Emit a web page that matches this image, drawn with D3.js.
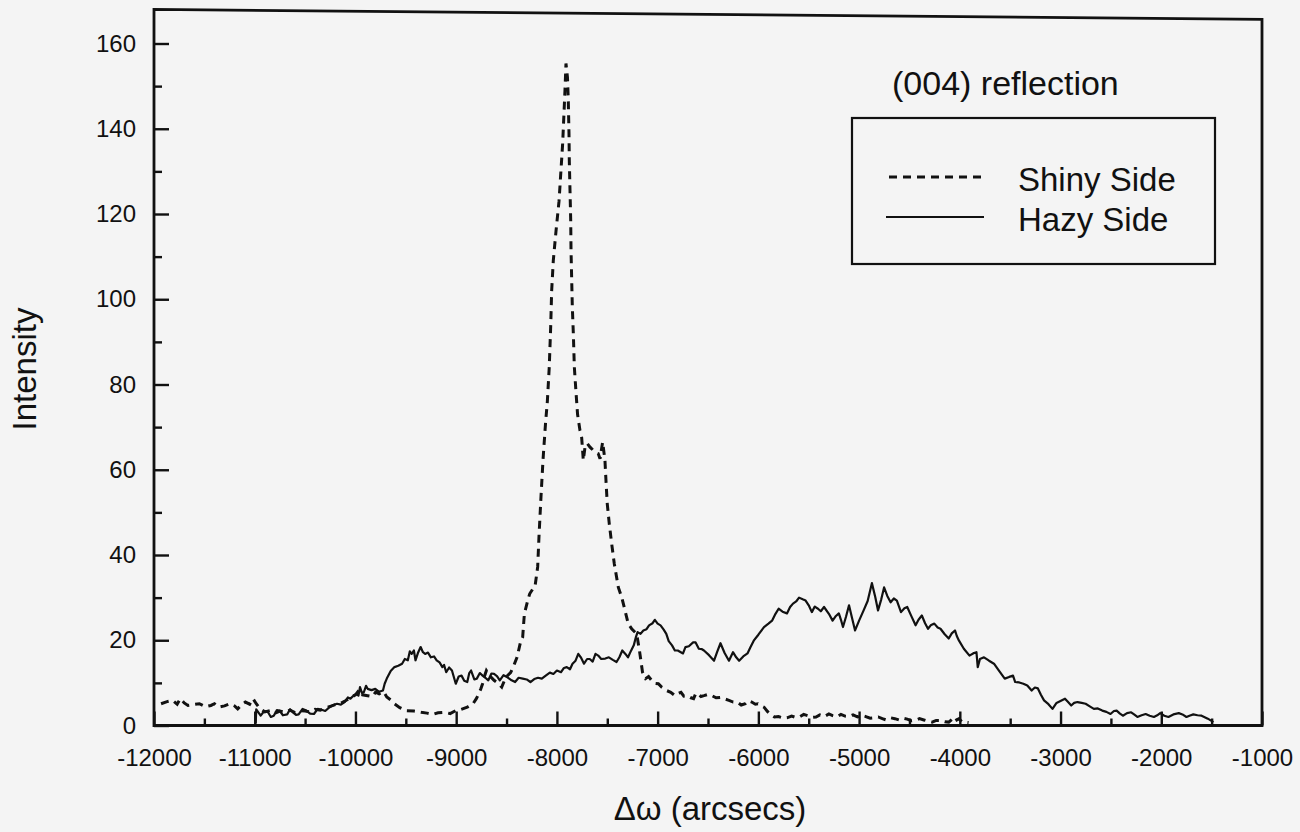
<!DOCTYPE html>
<html>
<head>
<meta charset="utf-8">
<script src="https://cdn.jsdelivr.net/npm/d3@7"></script>
<style>
  html, body { margin: 0; padding: 0; background: #f4f4f4; overflow: hidden; }
  svg { display: block; }
  text { font-family: "Liberation Sans", Arial, Helvetica, sans-serif; fill: #111; }
</style>
</head>
<body>
<svg id="chart" width="1300" height="832"></svg>
<script>
// Rocking curves, intensity vs. Δω (arcsec): [Δω, intensity]
const shinySide = [
  [-11930, 5.1], [-11870, 5.6], [-11815, 5.9], [-11770, 5.0], [-11739, 6.3], [-11700, 5.3],
  [-11663, 4.7], [-11610, 4.9], [-11549, 5.1], [-11490, 4.4], [-11435, 4.7], [-11400, 5.1],
  [-11359, 4.3], [-11300, 4.6], [-11245, 5.1], [-11200, 4.6], [-11169, 3.9], [-11130, 4.9],
  [-11093, 5.5], [-11050, 5.0], [-11017, 6.3], [-10985, 5.1], [-10950, 4.0], [-10900, 3.2],
  [-10850, 3.5], [-10800, 2.9], [-10750, 3.4], [-10700, 3.1], [-10650, 3.6], [-10600, 3.0],
  [-10550, 3.5], [-10500, 3.4], [-10450, 3.2], [-10400, 3.8], [-10350, 3.6], [-10300, 4.1],
  [-10250, 4.5], [-10200, 4.9], [-10150, 5.2], [-10100, 5.8], [-10050, 6.5], [-10000, 7.2],
  [-9960, 8.4], [-9930, 7.2], [-9879, 7.0], [-9830, 6.8], [-9800, 7.8], [-9765, 7.4],
  [-9720, 7.9], [-9689, 6.7], [-9650, 6.0], [-9613, 5.1], [-9560, 4.2], [-9499, 3.5],
  [-9420, 3.4], [-9347, 3.1], [-9290, 2.9], [-9232, 2.6], [-9180, 3.0], [-9118, 3.1],
  [-9060, 2.8], [-9004, 3.5], [-8950, 3.8], [-8890, 4.3], [-8833, 5.1], [-8800, 6.3],
  [-8776, 7.4], [-8755, 8.6], [-8738, 9.8], [-8720, 11.5], [-8700, 12.9], [-8660, 11.5],
  [-8624, 10.6], [-8590, 10.0], [-8548, 9.0], [-8520, 10.6], [-8491, 11.7], [-8460, 12.4],
  [-8434, 13.7], [-8396, 16.0], [-8358, 19.9], [-8340, 20.7], [-8323, 26.2], [-8290, 29.3],
  [-8270, 30.9], [-8240, 32.0], [-8218, 32.5], [-8191, 37.2], [-8178, 44.3], [-8158, 53.7],
  [-8138, 62.3], [-8113, 70.9], [-8095, 76.0], [-8076, 84.1], [-8062, 93.4], [-8052, 102],
  [-8036, 109], [-8009, 116], [-7979, 123], [-7962, 129.4], [-7943, 136.5], [-7930, 143.5],
  [-7920, 149], [-7910, 155.3], [-7895, 152], [-7887, 146.6], [-7880, 138.8], [-7877, 132.6],
  [-7870, 125.5], [-7863, 118.5], [-7860, 111.6], [-7853, 104.4], [-7847, 98.2], [-7837, 92],
  [-7827, 84.1], [-7810, 78], [-7795, 73], [-7771, 69.2], [-7754, 67.5], [-7738, 62.2],
  [-7721, 65.3], [-7700, 66.2], [-7671, 65.3], [-7645, 64.7], [-7622, 64.1], [-7590, 63.8],
  [-7572, 62.6], [-7546, 66.5], [-7523, 62.2], [-7513, 57.5], [-7500, 52], [-7480, 47.3],
  [-7456, 42.6], [-7430, 37.9], [-7390, 32.4], [-7357, 30.1], [-7324, 27], [-7291, 23.8],
  [-7258, 22.7], [-7208, 21.5], [-7180, 17.5], [-7150, 12.5], [-7120, 11.0], [-7090, 11.5],
  [-7060, 10.6], [-7030, 9.9], [-6993, 9.8], [-6960, 9.0], [-6911, 8.2], [-6870, 7.8],
  [-6828, 7.0], [-6800, 7.5], [-6768, 7.8], [-6740, 6.9], [-6708, 7.0], [-6670, 6.5],
  [-6643, 6.3], [-6620, 7.6], [-6602, 7.4], [-6570, 6.8], [-6540, 7.0], [-6500, 7.3],
  [-6460, 7.0], [-6420, 6.5], [-6376, 6.6], [-6330, 6.2], [-6292, 5.9], [-6250, 5.5],
  [-6210, 5.5], [-6170, 4.8], [-6130, 5.1], [-6100, 5.8], [-6066, 5.5], [-6030, 5.0],
  [-6004, 5.1], [-5970, 4.6], [-5944, 4.3], [-5910, 3.3], [-5884, 2.7], [-5840, 2.0],
  [-5800, 2.1], [-5760, 1.8], [-5716, 1.8], [-5670, 2.2], [-5630, 1.9], [-5593, 2.0],
  [-5550, 2.6], [-5510, 2.3], [-5470, 1.9], [-5428, 2.0], [-5390, 2.5], [-5345, 2.1],
  [-5300, 2.7], [-5263, 2.3], [-5220, 2.0], [-5180, 2.6], [-5140, 2.2], [-5098, 2.1],
  [-5060, 2.5], [-5016, 2.0], [-4975, 2.4], [-4933, 2.1], [-4890, 1.7], [-4851, 1.8],
  [-4810, 2.0], [-4769, 1.6], [-4730, 1.3], [-4686, 1.8], [-4645, 1.6], [-4604, 1.3],
  [-4560, 1.7], [-4522, 1.5], [-4480, 1.1], [-4439, 1.2], [-4400, 1.6], [-4357, 1.3],
  [-4315, 1.0], [-4275, 0.8], [-4235, 1.2], [-4192, 1.2], [-4150, 0.9], [-4110, 0.8],
  [-4075, 1.5], [-4048, 2.0], [-4030, 1.3], [-4008, 1.6], [-3980, 0.9], [-3950, 0.8],
  [-3913, 0.7]
];

const hazySide = [
  [-10990, 0.5], [-10985, 3.8], [-10941, 2.3], [-10905, 3.4], [-10868, 3.1], [-10840, 2.0],
  [-10811, 2.3], [-10780, 3.6], [-10754, 3.5], [-10720, 2.4], [-10678, 2.6], [-10650, 3.8],
  [-10621, 3.1], [-10590, 2.5], [-10564, 2.6], [-10525, 3.9], [-10488, 3.5], [-10450, 2.8],
  [-10412, 2.7], [-10375, 3.9], [-10336, 3.7], [-10300, 3.4], [-10257, 4.3], [-10220, 4.8],
  [-10183, 5.1], [-10145, 4.9], [-10107, 5.5], [-10075, 6.6], [-10050, 6.3], [-10020, 7.0],
  [-9993, 7.4], [-9970, 7.0], [-9955, 9.0], [-9935, 7.6], [-9917, 7.8], [-9895, 9.3],
  [-9879, 8.6], [-9840, 8.3], [-9803, 8.6], [-9765, 7.9], [-9727, 8.2], [-9710, 9.8],
  [-9689, 11.0], [-9650, 12.8], [-9613, 13.7], [-9575, 14.0], [-9537, 14.5], [-9510, 15.6],
  [-9480, 15.3], [-9460, 17.4], [-9442, 16.8], [-9420, 17.6], [-9404, 15.3], [-9380, 17.0],
  [-9353, 18.4], [-9330, 17.2], [-9308, 16.8], [-9280, 17.1], [-9251, 16.0], [-9220, 16.2],
  [-9194, 15.3], [-9165, 14.8], [-9137, 13.7], [-9120, 14.2], [-9099, 12.5], [-9070, 13.6],
  [-9042, 12.9], [-9004, 9.8], [-8975, 11.5], [-8947, 11.7], [-8920, 10.5], [-8890, 10.2],
  [-8870, 12.3], [-8852, 12.9], [-8820, 10.8], [-8795, 11.0], [-8765, 12.3], [-8738, 11.7],
  [-8710, 11.2], [-8681, 10.6], [-8650, 12.2], [-8624, 12.1], [-8595, 11.6], [-8567, 10.6],
  [-8530, 11.8], [-8491, 11.3], [-8450, 10.6], [-8415, 10.2], [-8380, 11.2], [-8339, 11.0],
  [-8300, 10.8], [-8263, 10.2], [-8225, 10.9], [-8187, 11.2], [-8150, 11.0], [-8111, 11.7],
  [-8070, 12.4], [-8035, 12.1], [-8000, 12.9], [-7959, 12.5], [-7930, 13.5], [-7902, 13.7],
  [-7870, 13.2], [-7845, 14.5], [-7815, 15.2], [-7788, 16.8], [-7760, 15.9], [-7731, 14.5],
  [-7700, 15.6], [-7674, 15.6], [-7645, 15.0], [-7617, 16.8], [-7590, 16.4], [-7560, 15.6],
  [-7520, 15.7], [-7484, 16.0], [-7445, 15.4], [-7408, 14.9], [-7380, 16.0], [-7351, 17.6],
  [-7320, 16.8], [-7294, 16.0], [-7265, 17.5], [-7237, 18.8], [-7215, 20.8], [-7199, 21.9],
  [-7170, 21.5], [-7142, 22.3], [-7110, 22.6], [-7085, 23.5], [-7050, 24.0], [-7028, 24.8],
  [-7000, 23.9], [-6971, 23.5], [-6940, 22.5], [-6914, 21.5], [-6890, 19.8], [-6857, 18.8],
  [-6829, 17.6], [-6800, 17.6], [-6770, 17.2], [-6748, 16.9], [-6724, 18.4], [-6690, 18.6],
  [-6648, 19.5], [-6623, 19.5], [-6591, 18.0], [-6560, 17.9], [-6540, 17.6], [-6490, 16.5],
  [-6440, 15.2], [-6410, 17.2], [-6376, 19.3], [-6335, 17.0], [-6292, 15.2], [-6252, 17.2],
  [-6220, 16.0], [-6191, 15.2], [-6150, 16.2], [-6108, 16.9], [-6080, 18.3], [-6046, 19.9],
  [-6000, 21.3], [-5944, 23.1], [-5900, 23.9], [-5864, 24.6], [-5830, 26.2], [-5799, 27.4],
  [-5760, 26.7], [-5716, 26.3], [-5685, 27.8], [-5656, 28.6], [-5625, 29.1], [-5596, 30.0],
  [-5560, 29.6], [-5531, 29.3], [-5500, 28.2], [-5469, 26.6], [-5440, 27.9], [-5408, 27.4],
  [-5380, 26.8], [-5348, 27.8], [-5300, 26.2], [-5263, 24.6], [-5230, 25.7], [-5201, 26.3],
  [-5180, 24.8], [-5160, 23.1], [-5130, 25.5], [-5100, 28.2], [-5070, 25.2], [-5040, 22.3],
  [-5000, 24.6], [-4955, 27.0], [-4915, 29.2], [-4873, 33.4], [-4840, 30.2], [-4812, 27.0],
  [-4780, 29.6], [-4752, 32.4], [-4720, 30.4], [-4687, 28.9], [-4655, 29.8], [-4625, 29.3],
  [-4584, 26.6], [-4550, 27.5], [-4522, 27.8], [-4480, 25.6], [-4439, 23.5], [-4410, 24.8],
  [-4377, 25.8], [-4345, 24.0], [-4316, 22.7], [-4285, 23.6], [-4253, 23.9], [-4220, 23.0],
  [-4192, 22.7], [-4150, 21.4], [-4110, 20.4], [-4080, 21.6], [-4048, 22.3], [-4030, 21.0],
  [-4008, 19.9], [-3960, 18.0], [-3904, 16.4], [-3860, 17.0], [-3835, 17.2], [-3822, 13.7],
  [-3800, 15.6], [-3760, 16.0], [-3710, 15.2], [-3661, 14.5], [-3610, 12.8], [-3554, 11.0],
  [-3510, 11.4], [-3472, 11.7], [-3450, 10.2], [-3410, 10.1], [-3369, 9.8], [-3330, 9.4],
  [-3287, 8.2], [-3255, 8.9], [-3225, 8.7], [-3195, 7.2], [-3164, 5.9], [-3120, 5.0],
  [-3080, 3.9], [-3040, 5.3], [-2956, 6.3], [-2925, 5.5], [-2894, 4.7], [-2865, 5.3],
  [-2832, 5.5], [-2790, 5.3], [-2751, 5.1], [-2710, 4.5], [-2669, 3.9], [-2630, 4.0],
  [-2586, 3.5], [-2545, 3.2], [-2504, 2.7], [-2470, 3.4], [-2443, 3.5], [-2410, 2.8],
  [-2381, 2.3], [-2340, 2.9], [-2299, 3.1], [-2270, 2.6], [-2237, 2.0], [-2195, 2.4],
  [-2155, 2.7], [-2115, 2.3], [-2073, 2.0], [-2040, 2.4], [-2011, 2.9], [-1970, 2.3],
  [-1929, 2.0], [-1880, 2.6], [-1826, 2.9], [-1790, 2.6], [-1750, 2.0], [-1720, 2.3],
  [-1682, 2.6], [-1640, 2.4], [-1600, 2.3], [-1538, 1.6], [-1482, 0.8]
];

const xMajorTicks = [-12000, -11000, -10000, -9000, -8000, -7000, -6000, -5000, -4000, -3000, -2000, -1000];
const xMinorTicks = [-11500, -10500, -9500, -8500, -7500, -6500, -5500, -4500, -3500, -2500, -1500];
const yMajorTicks = [0, 20, 40, 60, 80, 100, 120, 140, 160];
const yMinorTicks = [10, 30, 50, 70, 90, 110, 130, 150];
const seriesNames = ["Shiny Side", "Hazy Side"];
const panelLabel = "(004) reflection";
const xTitle = "Δω (arcsecs)";
const yTitle = "Intensity";

const ink = "#111";
const svg = d3.select("#chart");

const frame = { left: 154, right: 1262, top: 9.4, bottom: 725.5 };
const x = d3.scaleLinear().domain([-12000, -1000]).range([frame.left, frame.right]);
const y = d3.scaleLinear().domain([0, 168]).range([frame.bottom, frame.top]);

// plain integer labels with an ASCII hyphen for negatives
const plainNumber = d => String(d);

// plot frame (top edge runs slightly downhill to the right, as on the print)
svg.append("path")
  .attr("d", `M${frame.left},${frame.bottom} V${frame.top} L${frame.right},${frame.top + 10} V${frame.bottom} Z`)
  .attr("fill", "none").attr("stroke", ink).attr("stroke-width", 2.8);

function styleAxis(g, size) {
  g.select(".domain").remove();
  g.selectAll(".tick line").attr("stroke", ink).attr("stroke-width", 2.4);
  g.selectAll(".tick text").attr("font-size", size).attr("fill", ink)
    .attr("font-family", '"Liberation Sans", Arial, Helvetica, sans-serif');
}

// y axis: inward ticks
svg.append("g").attr("transform", `translate(${frame.left},0)`)
  .call(d3.axisLeft(y).tickValues(yMajorTicks).tickFormat(plainNumber)
    .tickSizeInner(-15).tickSizeOuter(0).tickPadding(18))
  .call(g => styleAxis(g, 24));
svg.append("g").attr("transform", `translate(${frame.left},0)`)
  .call(d3.axisLeft(y).tickValues(yMinorTicks).tickSizeInner(-8).tickSizeOuter(0).tickFormat(""))
  .call(g => styleAxis(g, 24));

// x axis: inward ticks
svg.append("g").attr("transform", `translate(0,${frame.bottom})`)
  .call(d3.axisBottom(x).tickValues(xMajorTicks).tickFormat(plainNumber)
    .tickSizeInner(-14).tickSizeOuter(0).tickPadding(23))
  .call(g => styleAxis(g, 24));
svg.append("g").attr("transform", `translate(0,${frame.bottom})`)
  .call(d3.axisBottom(x).tickValues(xMinorTicks).tickSizeInner(-7).tickSizeOuter(0).tickFormat(""))
  .call(g => styleAxis(g, 24));

// axis titles
svg.append("text")
  .attr("x", 710).attr("y", 820)
  .attr("text-anchor", "middle").attr("font-size", 33)
  .text(xTitle);
svg.append("text")
  .attr("transform", "translate(36,369) rotate(-90)")
  .attr("text-anchor", "middle").attr("font-size", 33)
  .text(yTitle);

// curves
const line = d3.line().x(d => x(d[0])).y(d => y(d[1]));
svg.append("path").datum(hazySide)
  .attr("d", line).attr("fill", "none")
  .attr("stroke", ink).attr("stroke-width", 2.2).attr("stroke-linejoin", "round");
svg.append("path").datum(shinySide)
  .attr("d", line).attr("fill", "none")
  .attr("stroke", ink).attr("stroke-width", 3).attr("stroke-dasharray", "8,6");

// panel label
svg.append("text")
  .attr("x", 892).attr("y", 95).attr("font-size", 34)
  .text(panelLabel);

// legend
const legend = svg.append("g");
legend.append("rect")
  .attr("x", 852).attr("y", 118).attr("width", 363).attr("height", 146)
  .attr("fill", "none").attr("stroke", ink).attr("stroke-width", 2.2);
const legendRows = [
  { name: seriesNames[0], dash: "8,6", width: 3, y: 177, x0: 889, x1: 985 },
  { name: seriesNames[1], dash: null, width: 2.2, y: 217, x0: 886, x1: 984 }
];
legendRows.forEach(r => {
  legend.append("line")
    .attr("x1", r.x0).attr("x2", r.x1).attr("y1", r.y).attr("y2", r.y)
    .attr("stroke", ink).attr("stroke-width", r.width)
    .attr("stroke-dasharray", r.dash);
  legend.append("text")
    .attr("x", 1018).attr("y", r.y + 14).attr("font-size", 33)
    .text(r.name);
});
</script>
</body>
</html>
